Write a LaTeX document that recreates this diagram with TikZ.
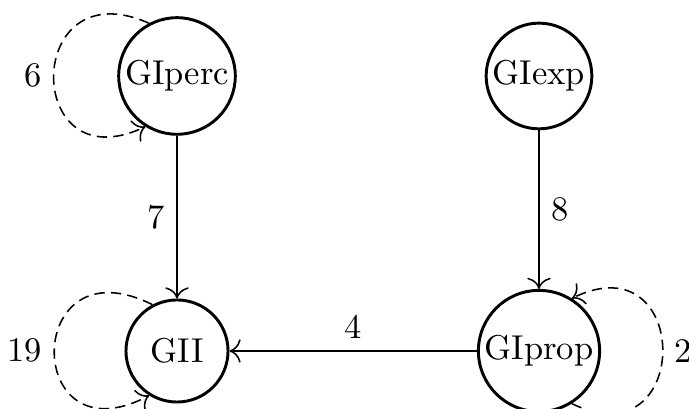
\documentclass[tikz,border=0pt]{standalone}
\usepackage{tikz}
\usetikzlibrary{arrows.meta}

\begin{document}
\begin{tikzpicture}[x=0.29pt, y=-0.29pt, >={To[scale=1.25]},
	groupnode/.style={circle, draw, line width=0.85pt, inner sep=1pt, minimum size=29.6pt},
	flow/.style={->, line width=0.45pt},
	selfflow/.style={->, line width=0.45pt, dash pattern=on 3pt off 1.8pt}]
		%%%%% START %%%%%
		
		\useasboundingbox (0, 0) rectangle (689, 409);
		
		\node[groupnode] (GIperc) at (177, 76) {GIperc};
		\node[groupnode] (GIexp) at (539, 76) {GIexp};
		\node[groupnode] (GII) at (177, 351) {GII};
		\node[groupnode] (GIprop) at (539, 351) {GIprop};
		
		\draw[flow] (GIperc) -- node[left] {7} (GII);
		\draw[flow] (GIexp) -- node[right] {8} (GIprop);
		\draw[flow] (GIprop) -- node[above] {4} (GII);
		
		\draw[selfflow] (GIperc.118) .. controls +(-126, -56) and +(-123, 58) .. node[left] {6} (GIperc.238);
		\draw[selfflow] (GII.118) .. controls +(-130, -65) and +(-127, 67) .. node[left] {19} (GII.238);
		\draw[selfflow] (GIprop.-58) .. controls +(121, 59) and +(121, -59) .. node[right] {2} (GIprop.58);
		
		%%%%% END %%%%%
	\end{tikzpicture}
\end{document}
